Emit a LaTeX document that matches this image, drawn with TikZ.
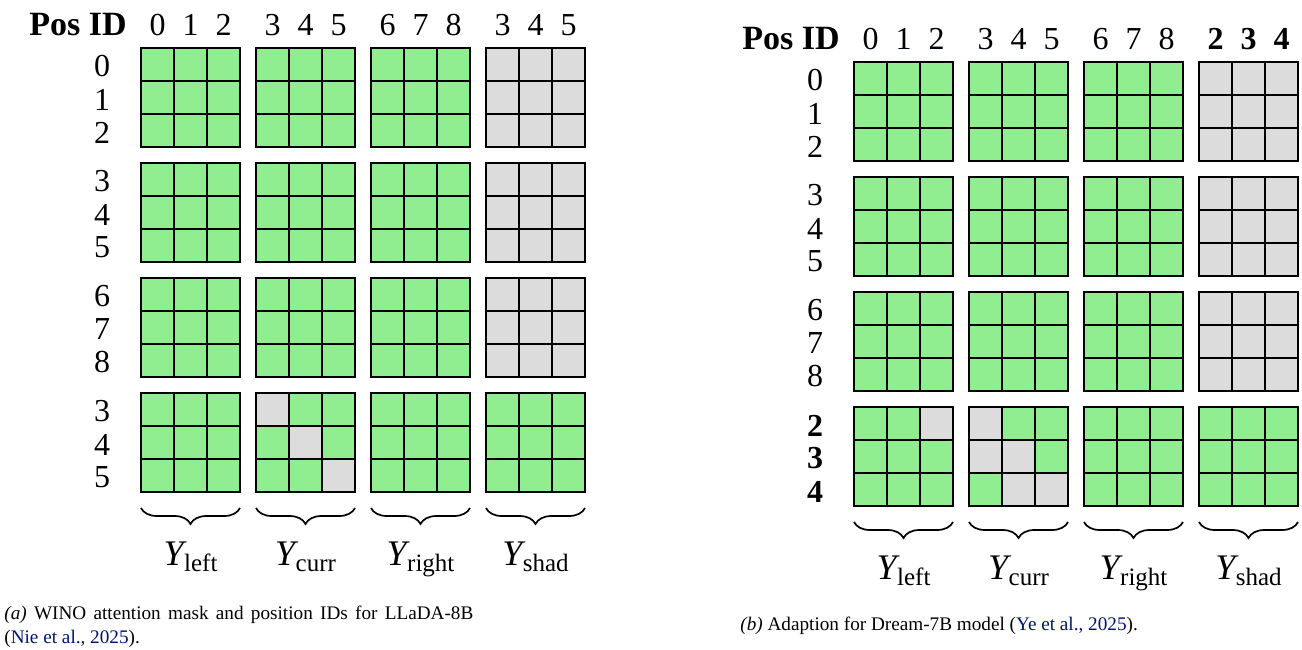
\documentclass[tikz,border=0pt]{standalone}
\usepackage{fontspec}
\setmainfont{Liberation Serif}
\usetikzlibrary{decorations.pathreplacing}
\definecolor{maskgreen}{HTML}{90EE90}
\definecolor{maskgray}{HTML}{DCDCDC}
\definecolor{citeblue}{rgb}{0,0.08,0.45}
\newcommand\ylab[1]{{\fontsize{18}{18}\selectfont\itshape Y}\kern0.3pt\raisebox{-3pt}{\fontsize{12.5}{12.5}\selectfont #1}}
\begin{document}
\begin{tikzpicture}[x=0.5pt,y=-0.5pt,
  cellbox/.style={draw=black,line width=0.9pt,fill=maskgreen},
  graycell/.style={draw=black,line width=0.9pt,fill=maskgray},
  digit/.style={font=\fontsize{16}{16}\selectfont,inner sep=0pt},
  posid/.style={font=\fontsize{17}{17}\selectfont\bfseries,inner sep=0pt,anchor=base east},
  bracestyle/.style={decorate,decoration={brace,mirror,amplitude=8pt},line width=0.85pt},
  ylabel/.style={inner sep=0pt,anchor=base},
  caption/.style={inner sep=0pt,anchor=base west,font=\fontsize{9.6}{11.5}\selectfont}]
\useasboundingbox (0,0) rectangle (1302,649);

% ---------- cells ----------
\foreach \ox/\oy in {141/48,854/62} {
  \foreach \c in {0,...,3} \foreach \r in {0,...,3} \foreach \i in {0,1,2} \foreach \j in {0,1,2}
    \filldraw[cellbox] (\ox+115*\c+33*\j,\oy+115*\r+33*\i) rectangle ++(33,33);
  % shadow column, first three row groups
  \foreach \r in {0,1,2} \foreach \i in {0,1,2} \foreach \j in {0,1,2}
    \filldraw[graycell] (\ox+345+33*\j,\oy+115*\r+33*\i) rectangle ++(33,33);
}
% panel (a): diagonal in Y_curr
\foreach \i in {0,1,2}
  \filldraw[graycell] (141+115+33*\i,48+345+33*\i) rectangle ++(33,33);
% panel (b): Y_left top-right, Y_curr pattern
\filldraw[graycell] (854+66,62+345) rectangle ++(33,33);
\foreach \i/\j in {0/0,1/0,1/1,2/1,2/2}
  \filldraw[graycell] (854+115+33*\j,62+345+33*\i) rectangle ++(33,33);

% ---------- labels ----------
\foreach \ox/\oy/\p in {141/48/a,854/62/b} {
  \node[posid] (\p-pos) at (\ox-14,\oy-13) {Pos ID};
  \foreach \c/\da/\db/\dc in {0/0/1/2,1/3/4/5,2/6/7/8} {
    \node[digit,anchor=base] (\p-h-\c-0) at (\ox+115*\c+16.5,\oy-13) {\da};
    \node[digit,anchor=base] (\p-h-\c-1) at (\ox+115*\c+49.5,\oy-13) {\db};
    \node[digit,anchor=base] (\p-h-\c-2) at (\ox+115*\c+82.5,\oy-13) {\dc};
    \node[digit] (\p-r-\c-0) at (\ox-39,\oy+115*\c+18.5) {\da};
    \node[digit] (\p-r-\c-1) at (\ox-39,\oy+115*\c+51.5) {\db};
    \node[digit] (\p-r-\c-2) at (\ox-39,\oy+115*\c+84.5) {\dc};
  }
  \foreach \c/\t in {0/left,1/curr,2/right,3/shad} {
    \coordinate (\p-bl-\c) at (\ox+115*\c,\oy+460);
    \coordinate (\p-br-\c) at (\ox+115*\c+99,\oy+460);
    \draw[bracestyle] (\p-bl-\c) -- (\p-br-\c);
    \node[ylabel] (\p-y-\c) at (\ox+115*\c+49.5,\oy+517) {\ylab{\t}};
  }
}
% last column / row group labels
\foreach \d/\k in {3/0,4/1,5/2} {
  \node[digit,anchor=base] (a-h-3-\k) at (141+345+16.5+33*\k,35) {\d};
  \node[digit] (a-r-3-\k) at (141-39,48+345+18.5+33*\k) {\d};
}
\foreach \d/\k in {2/0,3/1,4/2} {
  \node[digit,anchor=base,font=\fontsize{16}{16}\selectfont\bfseries] (b-h-3-\k) at (854+345+16.5+33*\k,49) {\d};
  \node[digit,font=\fontsize{16}{16}\selectfont\bfseries] (b-r-3-\k) at (854-39,62+345+18.5+33*\k) {\d};
}

% ---------- captions ----------
\node[caption] (capA1) at (4,619) {\hbox to 234.5pt{\textit{(a)} WINO attention mask and position IDs for LLaDA-8B}};
\node[caption] (capA2) at (4,643) {(\textcolor{citeblue}{Nie et al., 2025}).};
\node[caption] (capB) at (740,630) {\textit{(b)} Adaption for Dream-7B model (\textcolor{citeblue}{Ye et al., 2025}).};
\end{tikzpicture}
\end{document}
